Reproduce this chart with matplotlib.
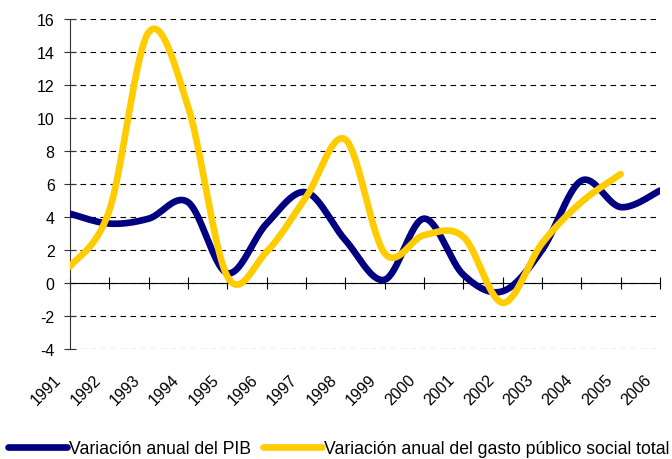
import numpy as np
import matplotlib
matplotlib.use('Agg')
import matplotlib.pyplot as plt
from matplotlib.transforms import ScaledTranslation

plt.rcParams['font.family'] = ['Liberation Sans', 'DejaVu Sans']
plt.rcParams['axes.unicode_minus'] = False

years = ['1991', '1992', '1993', '1994', '1995', '1996', '1997', '1998',
         '1999', '2000', '2001', '2002', '2003', '2004', '2005', '2006']
pib = [4.2, 3.6, 3.9, 4.9, 0.6, 3.6, 5.5, 2.6,
       0.2, 3.9, 0.5, -0.5, 2.0, 6.2, 4.6, 5.6]
gasto = [1.0, 4.4, 15.2, 10.7, 0.4, 1.9, 5.2, 8.7,
         1.8, 2.9, 2.8, -1.2, 2.4, 4.9, 6.6]

label_pib = 'Variación anual del PIB'
label_gasto = 'Variación anual del gasto público social total'


def smooth(ys, n=40):
    # Excel-like smoothed line (cardinal bezier through the points)
    xs = np.arange(len(ys), dtype=float)
    ys = np.asarray(ys, dtype=float)
    pts = np.column_stack([xs, ys])
    out = [pts[0]]
    t = np.linspace(0, 1, n)[1:, None]
    for i in range(len(pts) - 1):
        p0 = pts[i - 1] if i > 0 else pts[i]
        p1 = pts[i]
        p2 = pts[i + 1]
        p3 = pts[i + 2] if i + 2 < len(pts) else pts[i + 1]
        c1 = p1 + (p2 - p0) / 6
        c2 = p2 - (p3 - p1) / 6
        seg = ((1 - t) ** 3) * p1 + 3 * ((1 - t) ** 2) * t * c1 \
            + 3 * (1 - t) * t ** 2 * c2 + t ** 3 * p2
        out.extend(seg)
    out = np.array(out)
    return out[:, 0], out[:, 1]


fig = plt.figure(figsize=(6.72, 4.6), dpi=100)
ax = fig.add_axes([70 / 672, 110 / 460, 590 / 672, 330 / 460])

for s in ['top', 'right']:
    ax.spines[s].set_visible(False)
ax.spines['bottom'].set_position(('data', 0))
ax.spines['bottom'].set_zorder(2)
ax.spines['left'].set_color('#333333')

x1, y1 = smooth(pib)
x2, y2 = smooth(gasto)
l1, = ax.plot(x1, y1, color='#000080', lw=4.8, solid_capstyle='round',
              label=label_pib, zorder=3)
l2, = ax.plot(x2, y2, color='#FFCC00', lw=4.8, solid_capstyle='round',
              label=label_gasto, zorder=4)

ax.set_xlim(0, len(years) - 1)
ax.set_ylim(-4, 16)
ax.set_yticks(np.arange(-4, 17, 2))
ax.set_xticks(np.arange(len(years)))
ax.tick_params(axis='y', direction='inout', length=9, labelsize=11.5, pad=6.5,
               color='#333333')
ax.tick_params(axis='x', direction='inout', length=9, labelsize=11.5, pad=63)
ax.set_xticklabels(years, rotation=45, ha='right', va='center',
                   rotation_mode='anchor')
shift = ScaledTranslation(-0.11, 0, fig.dpi_scale_trans)
for lab in ax.get_xticklabels():
    lab.set_transform(lab.get_transform() + shift)

ax.yaxis.grid(True, linestyle=(0, (5, 4)), color='black', linewidth=0.8)
ax.set_axisbelow(True)

fig.legend(handles=[l1, l2], labels=[label_pib, label_gasto], loc='center',
           bbox_to_anchor=(0.504, 0.022), ncol=2, frameon=False,
           handlelength=3.35, handletextpad=0.1, columnspacing=0.68,
           fontsize=12.7)

fig.savefig('out.png', dpi=100)
